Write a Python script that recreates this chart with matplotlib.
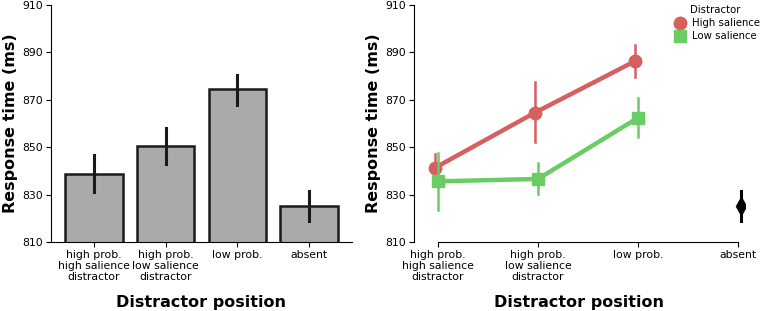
import matplotlib
matplotlib.use("Agg")
import matplotlib.pyplot as plt
import numpy as np

categories = ["high prob.\nhigh salience\ndistractor", "high prob.\nlow salience\ndistractor", "low prob.", "absent"]
bar_means = [838.6, 850.7, 874.4, 825.1]
bar_lo = [831.1, 843.1, 868.0, 818.7]
bar_hi = [846.5, 858.2, 880.4, 831.5]

high_means = [841.3, 864.6, 886.3]
high_lo = [836.5, 852.0, 879.7]
high_hi = [847.0, 877.6, 893.1]
low_means = [835.6, 836.6, 862.4]
low_lo = [823.4, 830.1, 854.1]
low_hi = [847.7, 843.4, 870.6]
absent_mean = 825.1
absent_lo = 818.7
absent_hi = 831.5

red = "#d65f5f"
green = "#6acc64"
tick_fs = 7.8
label_fs = 11.5

fig = plt.figure(figsize=(7.62, 3.11), dpi=100)
ax1 = fig.add_axes([51/762, 1-242/311, (352-51)/762, (242-5)/311])
ax2 = fig.add_axes([414/762, 1-242/311, (745-414)/762, (242-5)/311])

x = np.arange(len(categories))
ax1.bar(x, bar_means, width=0.8, color="#aaaaaa", edgecolor="#1a1a1a", linewidth=1.8, zorder=2)
for i in range(len(x)):
    ax1.plot([x[i], x[i]], [bar_lo[i], bar_hi[i]], color="#1a1a1a", lw=2.2, zorder=3)
ax1.set_xlim(-0.6, 3.6)
ax1.set_ylim(810, 910)

xp = np.arange(3)
dodge = 0.03
xr = xp - dodge
xg = xp
ax2.plot(xr, high_means, color=red, lw=3.2, marker="o", markersize=9, zorder=3, label="High salience")
for i in range(3):
    ax2.plot([xr[i], xr[i]], [high_lo[i], high_hi[i]], color=red, lw=1.8, zorder=3)
ax2.plot(xg, low_means, color=green, lw=3.2, marker="s", markersize=9, zorder=4, label="Low salience")
for i in range(3):
    ax2.plot([xg[i], xg[i]], [low_lo[i], low_hi[i]], color=green, lw=1.8, zorder=4)
ax2.plot([3.03, 3.03], [absent_lo, absent_hi], color="black", lw=2.2, zorder=3)
ax2.plot([3.03], [absent_mean], marker="d", color="black", markersize=9, zorder=4)
ax2.set_xlim(-0.24, 3.07)
ax2.set_ylim(810, 910)
ax2.spines["bottom"].set_bounds(0, 3)

for ax in (ax1, ax2):
    ax.set_yticks([810, 830, 850, 870, 890, 910])
    ax.set_xticks(x)
    ax.set_xticklabels(categories, fontsize=tick_fs, linespacing=1.15)
    ax.tick_params(axis="y", labelsize=tick_fs, pad=2)
    ax.tick_params(axis="x", pad=2)
    ax.set_ylabel("Response time (ms)", fontsize=label_fs, fontweight="bold", labelpad=3)
    ax.set_xlabel("Distractor position", fontsize=label_fs, fontweight="bold", labelpad=9)
    for s in ["top", "right"]:
        ax.spines[s].set_visible(False)

leg = ax2.legend(title="Distractor", loc="upper right", bbox_to_anchor=(1.065, 1.025), frameon=False,
                 fontsize=7.3, title_fontsize=7.3, handletextpad=0.2, labelspacing=0.3, borderaxespad=0.2)
for h in leg.legend_handles:
    h.set_linestyle("none")

fig.savefig("out.png", dpi=100)
